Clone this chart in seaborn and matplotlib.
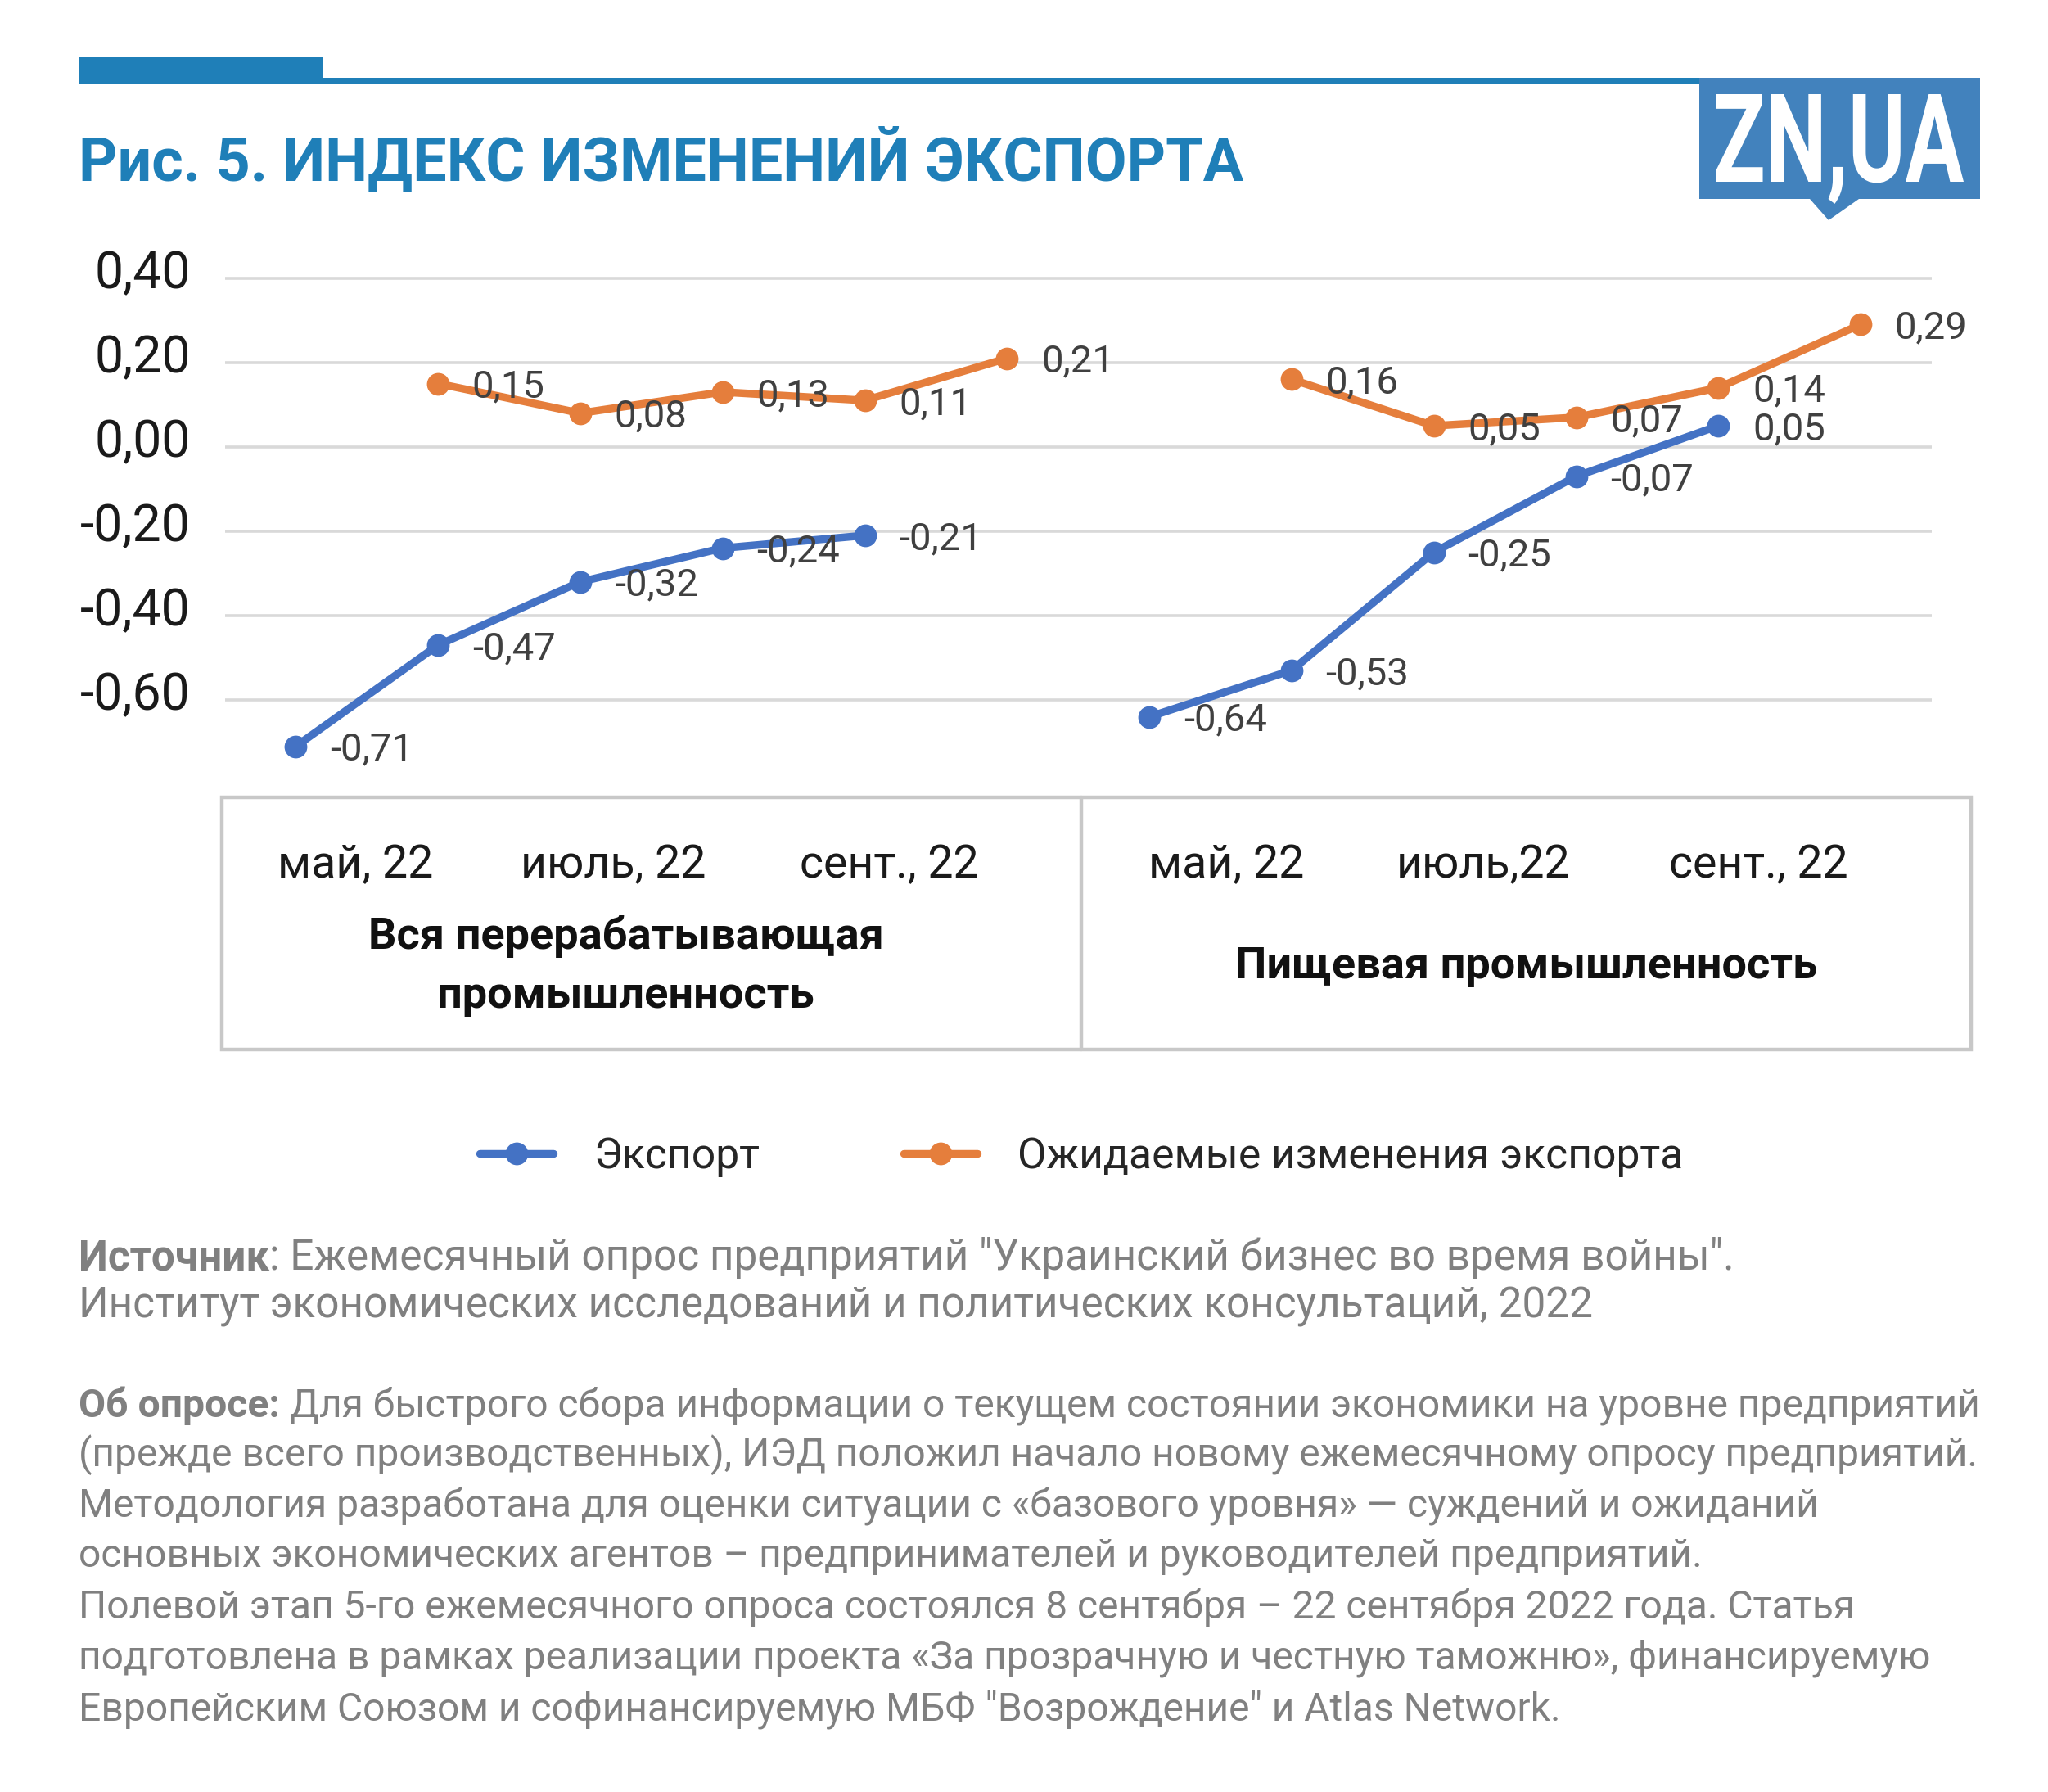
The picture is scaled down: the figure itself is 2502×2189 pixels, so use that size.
import numpy as np
import pandas as pd
import seaborn as sns
import matplotlib.pyplot as plt
import matplotlib.transforms as mtransforms
from matplotlib.patches import Rectangle, Polygon, PathPatch
from matplotlib.lines import Line2D
from matplotlib.textpath import TextPath
from matplotlib.font_manager import FontProperties

# --- data ---
series_names = ['Экспорт', 'Ожидаемые изменения экспорта']
groups = ['Вся перерабатывающая\nпромышленность', 'Пищевая промышленность']
export_all = [-0.71, -0.47, -0.32, -0.24, -0.21]
expected_all = [0.15, 0.08, 0.13, 0.11, 0.21]
export_food = [-0.64, -0.53, -0.25, -0.07, 0.05]
expected_food = [0.16, 0.05, 0.07, 0.14, 0.29]
month_labels = [['май, 22', 'июль, 22', 'сент., 22'],
                ['май, 22', 'июль,22', 'сент., 22']]
yticks = [-0.6, -0.4, -0.2, 0.0, 0.2, 0.4]

colors = {'Экспорт': '#4472C4', 'Ожидаемые изменения экспорта': '#E57E3C'}
blue_dark = '#1f7fb8'
gray_txt = '#808080'

W, H = 2502, 2189
def fx(px):
    return px / W
def fy(py):
    return 1 - py / H

# 6 slots per group: export in slots 0-4, expectation shifted one slot right
rows = []
for g, (ex, fu) in enumerate([(export_all, expected_all), (export_food, expected_food)]):
    for i, v in enumerate(ex):
        rows.append(dict(x=g * 6 + i, value=v, series=series_names[0], seg=f'e{g}'))
    for i, v in enumerate(fu):
        rows.append(dict(x=g * 6 + i + 1, value=v, series=series_names[1], seg=f'o{g}'))
df = pd.DataFrame(rows)

sns.set_theme(style='white')
plt.rcParams['font.family'] = ['Roboto', 'DejaVu Sans']

fig = plt.figure(figsize=(W / 200, H / 200), dpi=200)
ax = fig.add_axes([fx(274.5), fy(973.5), fx(2360) - fx(274.5), fy(314) - fy(973.5)])

sns.lineplot(data=df, x='x', y='value', hue='series', units='seg', estimator=None,
             palette=colors, marker='o', markersize=10, markeredgewidth=0,
             linewidth=3.4, legend=False, ax=ax)

for _, r in df.iterrows():
    ax.annotate(f"{r['value']:.2f}".replace('.', ','), (r['x'], r['value']),
                xytext=(15, -1.5), textcoords='offset points', ha='left', va='center',
                fontsize=17, color='#404040')

ax.set_xlim(-0.5, 11.5)
ax.set_ylim(-0.83, 0.45)
ax.set_yticks(yticks)
ax.set_yticklabels([f"{t:.2f}".replace('.', ',') for t in yticks])
ax.set_xticks([])
ax.set_xlabel('')
ax.set_ylabel('')
ax.tick_params(axis='y', length=0, pad=15, labelsize=22.5, labelcolor='#1a1a1a')
# tick labels sit a little above their gridlines in the original
shift = mtransforms.ScaledTranslation(0, 4 / 72, fig.dpi_scale_trans)
for lab in ax.get_yticklabels():
    lab.set_transform(lab.get_transform() + shift)
ax.yaxis.grid(True, color='#d9d9d9', linewidth=1.3)
ax.set_axisbelow(True)
sns.despine(ax=ax, left=True, bottom=True)

# category box under the axis
fig.add_artist(Rectangle((fx(271), fy(1281.6)), fx(2408) - fx(271), fy(973.5) - fy(1281.6),
                         transform=fig.transFigure, fill=False, ec='#c8c8c8', lw=1.6))
fig.add_artist(Line2D([fx(1321), fx(1321)], [fy(1281.6), fy(973.5)],
                      transform=fig.transFigure, color='#c8c8c8', lw=1.6))

bt = mtransforms.blended_transform_factory(ax.transData, fig.transFigure)
month_pos = [[0.42, 2.23, 4.17], [6.54, 8.35, 10.28]]
for g in range(2):
    for lab, p in zip(month_labels[g], month_pos[g]):
        ax.text(p, fy(1057), lab, transform=bt, ha='center', va='center',
                fontsize=20, color='#1a1a1a')
ax.text(2.32, fy(1180), groups[0], transform=bt, ha='center', va='center',
        fontsize=19.5, fontweight='bold', color='#111111', linespacing=1.5)
ax.text(8.65, fy(1181), groups[1], transform=bt, ha='center', va='center',
        fontsize=19.5, fontweight='bold', color='#111111')

# legend
handles = [Line2D([], [], color=colors[s], marker='o', lw=3.4, ms=10, mew=0) for s in series_names]
fig.legend(handles, series_names, loc='center', bbox_to_anchor=(0.528, fy(1413)), ncol=2,
           frameon=False, fontsize=18.6, handlelength=1.75, handletextpad=0.95,
           columnspacing=3.4, labelcolor='#262626')

# header: bars, title, logo
fig.add_artist(Rectangle((fx(96), fy(102)), fx(2080) - fx(96), fy(95) - fy(102),
                         transform=fig.transFigure, color=blue_dark, lw=0))
fig.add_artist(Rectangle((fx(96), fy(102)), fx(394) - fx(96), fy(70) - fy(102),
                         transform=fig.transFigure, color=blue_dark, lw=0))
fig.text(fx(96), fy(220), 'Рис. 5. ИНДЕКС ИЗМЕНЕНИЙ ЭКСПОРТА', ha='left', va='baseline',
         fontsize=26.5, fontweight='bold', color=blue_dark)

logo_pts = [(2076, 95), (2419, 95), (2419, 243), (2271, 243), (2234, 269), (2211, 243), (2076, 243)]
fig.add_artist(Polygon([(fx(a), fy(b)) for a, b in logo_pts], closed=True,
                       transform=fig.transFigure, color='#4282bd', lw=0))
fp = FontProperties(family='Roboto', weight='bold')
tp = TextPath((0, 0), 'ZN,UA', size=100, prop=fp)
cap = TextPath((0, 0), 'ZN', size=100, prop=fp).get_extents()
ext = tp.get_extents()
sx = (2399 - 2096) / ext.width / W
sy = (222 - 115) / cap.y1 / H
tr = mtransforms.Affine2D().translate(-ext.x0, 0).scale(sx, sy).translate(fx(2096), fy(222)) + fig.transFigure
fig.add_artist(PathPatch(tp, transform=tr, fc='white', ec='none'))

# source and notes
def mixed(y, bold, rest, size):
    t = fig.text(fx(96), fy(y), bold, ha='left', va='center', fontsize=size,
                 fontweight='bold', color=gray_txt)
    fig.add_artist(plt.Annotation(rest, xy=(1, 0), xycoords=t, ha='left', va='bottom',
                                  fontsize=size, color=gray_txt))

mixed(1537, 'Источник', ': Ежемесячный опрос предприятий "Украинский бизнес во время войны".', 18.5)
fig.text(fx(96), fy(1596), 'Институт экономических исследований и политических консультаций, 2022',
         ha='left', va='center', fontsize=18.5, color=gray_txt)
mixed(1717, 'Об опросе:', ' Для быстрого сбора информации о текущем состоянии экономики на уровне предприятий', 17.3)
notes = [
    '(прежде всего производственных), ИЭД положил начало новому ежемесячному опросу предприятий.',
    'Методология разработана для оценки ситуации с «базового уровня» — суждений и ожиданий',
    'основных экономических агентов – предпринимателей и руководителей предприятий.',
    'Полевой этап 5-го ежемесячного опроса состоялся 8 сентября – 22 сентября 2022 года. Статья',
    'подготовлена в рамках реализации проекта «За прозрачную и честную таможню», финансируемую',
    'Европейским Союзом и софинансируемую МБФ "Возрождение" и Atlas Network.',
]
for k, line in enumerate(notes):
    fig.text(fx(96), fy(1777 + 62.2 * k), line, ha='left', va='center', fontsize=17.3, color=gray_txt)

fig.savefig('out.png', dpi=200, facecolor='white')
